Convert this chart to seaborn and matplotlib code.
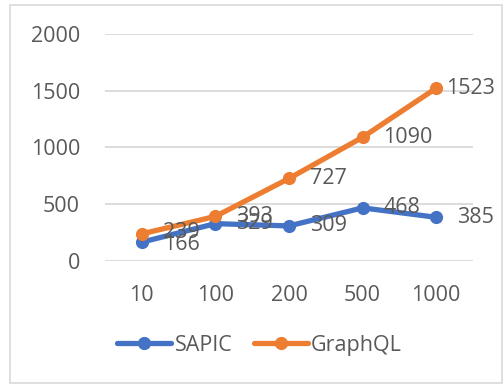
import seaborn as sns
import pandas as pd
from matplotlib import pyplot as plt
from matplotlib.patches import Rectangle

requests = ['10', '100', '200', '500', '1000']
sapic = [166, 329, 309, 468, 385]
graphql = [239, 393, 727, 1090, 1523]
series_names = ['SAPIC', 'GraphQL']
y_ticks = [0, 500, 1000, 1500, 2000]

blue = '#4472C4'
orange = '#ED7D31'
text_grey = '#595959'

df = pd.DataFrame({
    'requests': requests * 2,
    'time': sapic + graphql,
    'api': [series_names[0]] * len(requests) + [series_names[1]] * len(requests),
})

sns.set_style('white')
plt.rcParams['font.family'] = ['Open Sans', 'DejaVu Sans']

fig = plt.figure(figsize=(5.04, 3.85), dpi=100)
ax = fig.add_axes([0.2083, 0.3221, 0.7302, 0.5896])

sns.lineplot(
    data=df,
    x='requests',
    y='time',
    hue='api',
    palette=[blue, orange],
    marker='o',
    markersize=9.5,
    markeredgewidth=0,
    linewidth=3.8,
    ax=ax,
    clip_on=False,
    legend=False,
)

# data labels to the right of each point (first pair nudged apart like excel)
for vals, first_dy in [(sapic, -2), (graphql, 1)]:
    for i, v in enumerate(vals):
        dx = 7 if v == 1523 else 15
        dy = first_dy if i == 0 else 0
        ax.annotate(str(v), (i, v), xytext=(dx, dy), textcoords='offset points',
                    ha='left', va='center', fontsize=15.5, color=text_grey)

ax.set_xlim(-0.5, len(requests) - 0.5)
ax.set_ylim(0, 2000)
ax.set_yticks(y_ticks)
ax.yaxis.grid(True, color='#D9D9D9', linewidth=1.3)
ax.set_axisbelow(True)
for s in ax.spines.values():
    s.set_visible(False)
ax.tick_params(axis='both', length=0, labelsize=15.5, labelcolor=text_grey)
ax.tick_params(axis='y', pad=18)
ax.tick_params(axis='x', pad=17)
ax.set_xlabel('')
ax.set_ylabel('')

handles = [
    plt.Line2D([], [], color=blue, linewidth=3.8, marker='o', markersize=9.5, markeredgewidth=0),
    plt.Line2D([], [], color=orange, linewidth=3.8, marker='o', markersize=9.5, markeredgewidth=0),
]
fig.legend(handles, series_names, loc='center', bbox_to_anchor=(0.515, 0.103), ncol=2,
           frameon=False, fontsize=15.5, labelcolor=text_grey, handlelength=2.5,
           handletextpad=0.15, columnspacing=1.0)

fig.patches.append(Rectangle((0.02, 0.005), 0.976, 0.982, transform=fig.transFigure,
                             fill=False, edgecolor='#D9D9D9', linewidth=1.2))

plt.savefig('out.png', dpi=100)
